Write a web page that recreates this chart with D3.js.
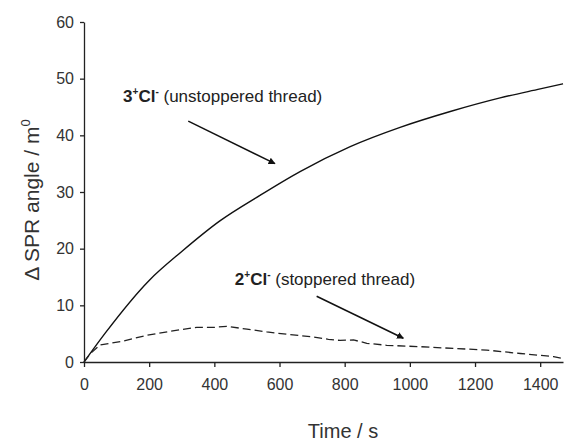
<!DOCTYPE html>
<html>
<head>
<meta charset="utf-8">
<script src="https://cdn.jsdelivr.net/npm/d3@7"></script>
<style>
  body { margin: 0; background: #fff; }
  svg { display: block; font-family: "Liberation Sans", Arial, sans-serif; }
  .axis path, .axis line { stroke: #222; stroke-width: 1.3; }
  .axis text { fill: #333; font-size: 16px; }
</style>
</head>
<body>
<svg id="chart" width="565" height="441"></svg>
<script>
"use strict";

// 3+Cl- (unstoppered thread)
var timeUnstop = [0, 65, 200, 300, 417, 540, 663, 817, 970, 1124, 1277, 1400, 1470];
var valUnstop  = [0, 5.1, 14.4, 19.5, 24.9, 29.4, 33.6, 38.0, 41.4, 44.2, 46.6, 48.2, 49.1];

// 2+Cl- (stoppered thread)
var timeStop = [0, 20, 49, 121, 192, 295, 346, 397, 438, 500, 561, 622, 704, 750, 786, 827, 868, 929, 1032, 1134, 1236, 1339, 1441, 1470];
var valStop  = [0, 1.5, 3.0, 3.7, 4.7, 5.7, 6.1, 6.1, 6.3, 5.8, 5.3, 4.9, 4.4, 4.0, 3.8, 3.9, 3.3, 2.95, 2.7, 2.4, 2.1, 1.5, 0.95, 0.6];

var xTicks = [0, 200, 400, 600, 800, 1000, 1200, 1400];
var yTicks = [0, 10, 20, 30, 40, 50, 60];

var svg = d3.select("#chart");

var x = d3.scaleLinear().domain([0, 1470]).range([84, 563]);
var y = d3.scaleLinear().domain([0, 60]).range([362, 22]);

// 坐标轴
svg.append("g")
    .attr("class", "axis")
    .attr("transform", "translate(0," + y(0) + ")")
    .call(d3.axisBottom(x).tickValues(xTicks).tickFormat(d3.format("d"))
        .tickSize(5).tickSizeOuter(0).tickPadding(12));

svg.append("g")
    .attr("class", "axis")
    .attr("transform", "translate(" + x(0) + ",0)")
    .call(d3.axisLeft(y).tickValues(yTicks).tickFormat(d3.format("d"))
        .tickSize(4).tickSizeOuter(0).tickPadding(6));

svg.selectAll(".axis text").attr("font-family", null).attr("font-size", null);

// 曲线
var line = d3.line()
    .x(function(d){ return x(d[0]); })
    .y(function(d){ return y(d[1]); })
    .curve(d3.curveMonotoneX);

svg.append("path")
    .datum(d3.zip(timeUnstop, valUnstop))
    .attr("d", line)
    .attr("fill", "none")
    .attr("stroke", "#111")
    .attr("stroke-width", 1.4);

svg.append("path")
    .datum(d3.zip(timeStop, valStop))
    .attr("d", line.curve(d3.curveLinear))
    .attr("fill", "none")
    .attr("stroke", "#222")
    .attr("stroke-width", 1.3)
    .attr("stroke-dasharray", "8,4");

// 轴标题
svg.append("text")
    .attr("x", 343).attr("y", 438)
    .attr("text-anchor", "middle")
    .attr("font-size", 20)
    .attr("fill", "#333")
    .text("Time / s");

var yTitle = svg.append("text")
    .attr("transform", "translate(39,200) rotate(-90)")
    .attr("text-anchor", "middle")
    .attr("font-size", 21)
    .attr("fill", "#333");
yTitle.append("tspan").text("\u0394 SPR angle / m");
yTitle.append("tspan").attr("dy", -9).attr("font-size", 13).text("0");

// 标注
svg.append("defs").append("marker")
    .attr("id", "arrow")
    .attr("viewBox", "0 0 10 10")
    .attr("refX", 9).attr("refY", 5)
    .attr("markerWidth", 7).attr("markerHeight", 7)
    .attr("markerUnits", "userSpaceOnUse")
    .attr("orient", "auto")
    .append("path")
    .attr("d", "M0,0L10,5L0,10Z")
    .attr("fill", "#111");

var notes = [
    { num: "3", tail: " (unstoppered thread)", t: 120, v: 45.9, from: [320, 42.5], to: [586, 35.0] },
    { num: "2", tail: " (stoppered thread)",   t: 463, v: 13.6, from: [714, 11.6], to: [980, 4.2] }
];

notes.forEach(function(n){
    var txt = svg.append("text")
        .attr("x", x(n.t)).attr("y", y(n.v))
        .attr("font-size", 17)
        .attr("fill", "#222");
    txt.append("tspan").attr("font-weight", "bold").text(n.num);
    txt.append("tspan").attr("font-weight", "bold").attr("font-size", 10).attr("dy", -7).text("+");
    txt.append("tspan").attr("font-weight", "bold").attr("dy", 7).text("Cl");
    txt.append("tspan").attr("font-weight", "bold").attr("font-size", 10).attr("dy", -7).text("-");
    txt.append("tspan").attr("dy", 7).text(n.tail);

    svg.append("line")
        .attr("x1", x(n.from[0])).attr("y1", y(n.from[1]))
        .attr("x2", x(n.to[0])).attr("y2", y(n.to[1]))
        .attr("stroke", "#111")
        .attr("stroke-width", 1.5)
        .attr("marker-end", "url(#arrow)");
});
</script>
</body>
</html>
